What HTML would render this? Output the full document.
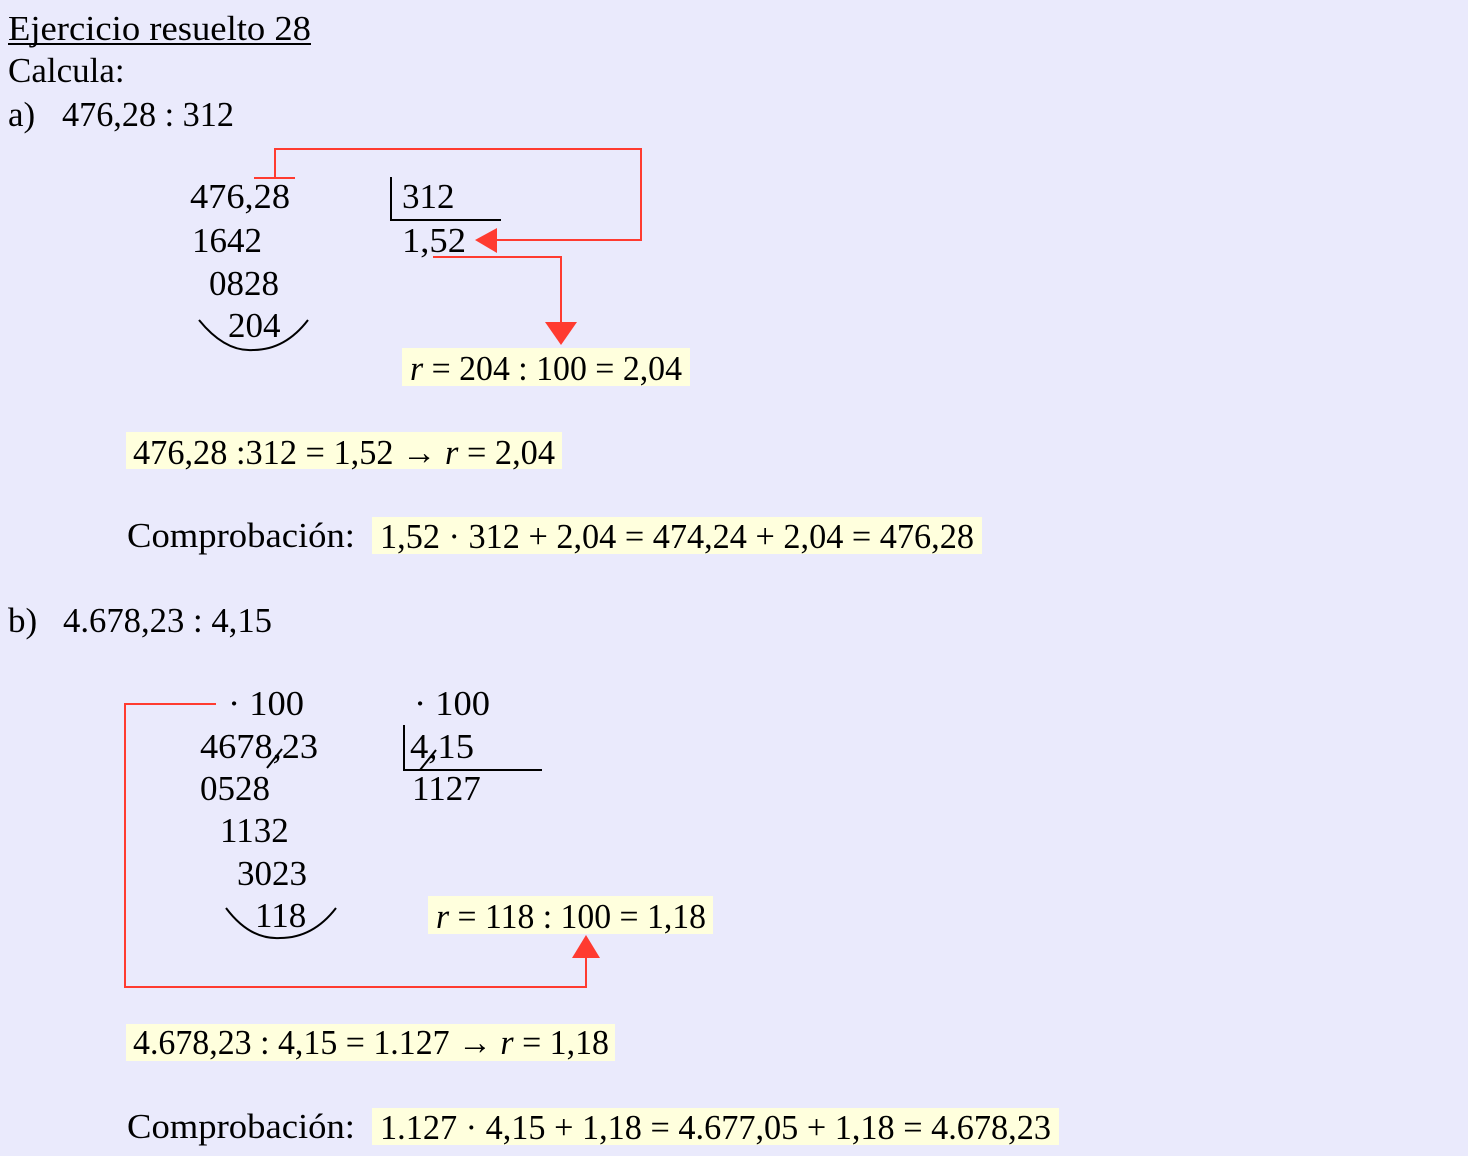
<!DOCTYPE html>
<html><head><meta charset="utf-8"><style>
html,body{margin:0;padding:0;background:#EAEAFC;}
svg{display:block;}
text{font-family:"Liberation Serif",serif;font-size:35px;fill:#000;}
</style></head><body>
<svg width="1468" height="1156" viewBox="0 0 1468 1156" xmlns="http://www.w3.org/2000/svg">
<rect width="1468" height="1156" fill="#EAEAFC"/>
<g fill="#FFFFDD">
<rect x="402" y="348" width="288" height="38"/>
<rect x="126" y="432" width="436" height="37"/>
<rect x="372" y="517" width="610" height="37"/>
<rect x="428" y="896" width="285" height="38"/>
<rect x="126" y="1024" width="489" height="37"/>
<rect x="372" y="1108" width="687" height="37"/>
</g>
<text x="8" y="40" textLength="303" lengthAdjust="spacingAndGlyphs">Ejercicio resuelto 28</text>
<line x1="8" y1="44" x2="311" y2="44" stroke="#000" stroke-width="2"/>
<text x="8" y="82">Calcula:</text>
<text x="8" y="126">a)</text>
<text x="62" y="126" textLength="172" lengthAdjust="spacingAndGlyphs">476,28 : 312</text>

<text x="190" y="208" textLength="100" lengthAdjust="spacingAndGlyphs">476,28</text>
<text x="402" y="208">312</text>
<text x="192" y="252">1642</text>
<text x="402" y="252" textLength="64" lengthAdjust="spacingAndGlyphs">1,52</text>
<text x="209" y="295">0828</text>
<text x="228" y="337">204</text>
<text x="410" y="380" textLength="272" lengthAdjust="spacingAndGlyphs"><tspan font-style="italic">r</tspan> = 204 : 100 = 2,04</text>

<text x="133" y="464" textLength="422" lengthAdjust="spacingAndGlyphs">476,28 :312 = 1,52 → <tspan font-style="italic">r</tspan> = 2,04</text>
<text x="127" y="547" textLength="228" lengthAdjust="spacingAndGlyphs">Comprobación:</text>
<text x="380" y="548" textLength="594" lengthAdjust="spacingAndGlyphs">1,52 · 312 + 2,04 = 474,24 + 2,04 = 476,28</text>

<text x="8" y="632">b)</text>
<text x="63" y="632" textLength="209" lengthAdjust="spacingAndGlyphs">4.678,23 : 4,15</text>
<text x="228" y="715" textLength="76" lengthAdjust="spacingAndGlyphs">· 100</text>
<text x="414" y="715" textLength="76" lengthAdjust="spacingAndGlyphs">· 100</text>
<text x="200" y="758" textLength="118" lengthAdjust="spacingAndGlyphs">4678,23</text>
<text x="410" y="758" textLength="64" lengthAdjust="spacingAndGlyphs">4,15</text>
<text x="200" y="800">0528</text>
<text x="412" y="800">1127</text>
<text x="220" y="842">1132</text>
<text x="237" y="885">3023</text>
<text x="255" y="927">118</text>
<text x="436" y="928" textLength="270" lengthAdjust="spacingAndGlyphs"><tspan font-style="italic">r</tspan> = 118 : 100 = 1,18</text>

<text x="133" y="1054" textLength="476" lengthAdjust="spacingAndGlyphs">4.678,23 : 4,15 = 1.127 → <tspan font-style="italic">r</tspan> = 1,18</text>
<text x="127" y="1138" textLength="228" lengthAdjust="spacingAndGlyphs">Comprobación:</text>
<text x="380" y="1139" textLength="671" lengthAdjust="spacingAndGlyphs">1.127 · 4,15 + 1,18 = 4.677,05 + 1,18 = 4.678,23</text>

<g stroke="#000" stroke-width="2" fill="none">
<polyline points="391,177 391,220 501,220"/>
<path d="M199,320 Q225,352 253,350 Q285,350 308,320"/>
<polyline points="404,725 404,770 542,770"/>
<path d="M226,908 Q250,940 280,938 Q313,938 336,908"/>
<line x1="267" y1="768" x2="282" y2="749"/>
<line x1="420" y1="770" x2="436" y2="750"/>
</g>
<g stroke="#FF3B30" stroke-width="2" fill="none">
<line x1="254" y1="178" x2="295" y2="178"/>
<polyline points="275,178 275,149 641,149 641,240 495,240"/>
<polyline points="433,257 561,257 561,324"/>
<polyline points="216,704 125,704 125,987 586,987 586,957"/>
</g>
<g fill="#FF3B30">
<polygon points="475,240 497,228 497,253"/>
<polygon points="545,322 577,322 561,345"/>
<polygon points="572,958 600,958 586,935"/>
</g>
</svg>
</body></html>
